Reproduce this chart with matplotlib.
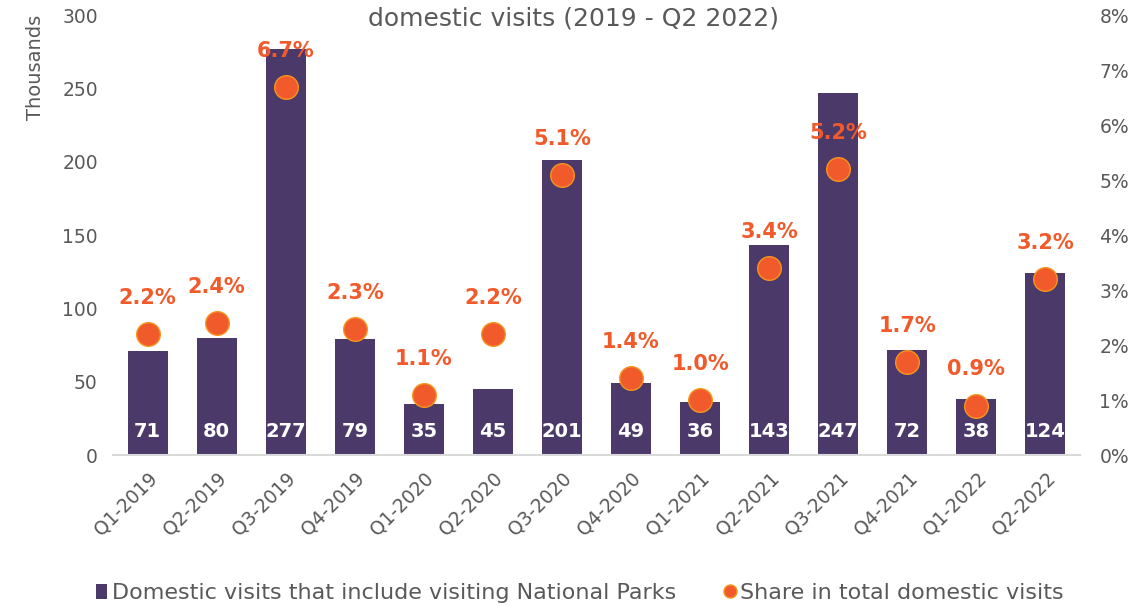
import matplotlib.pyplot as plt
import numpy as np

plt.rcParams['font.family'] = ['DejaVu Sans']

quarters = ['Q1-2019', 'Q2-2019', 'Q3-2019', 'Q4-2019', 'Q1-2020', 'Q2-2020', 'Q3-2020',
            'Q4-2020', 'Q1-2021', 'Q2-2021', 'Q3-2021', 'Q4-2021', 'Q1-2022', 'Q2-2022']
visits = [71, 80, 277, 79, 35, 45, 201, 49, 36, 143, 247, 72, 38, 124]
share = [2.2, 2.4, 6.7, 2.3, 1.1, 2.2, 5.1, 1.4, 1.0, 3.4, 5.2, 1.7, 0.9, 3.2]

purple = '#4B3A69'
orange = '#F15A2B'
grey = '#595959'

fig = plt.figure(figsize=(11.35, 6.06), dpi=100)
ax = fig.add_axes([0.0996, 0.249, 0.8519, 0.726])
ax2 = ax.twinx()

x = np.arange(len(quarters))
ax.bar(x, visits, width=0.58, color=purple, zorder=2,
       label='Domestic visits that include visiting National Parks')
for i, v in enumerate(visits):
    ax.text(i, 16, str(v), ha='center', va='center', color='white',
            fontsize=14, fontweight='bold', zorder=3)

ax.set_xlim(-0.5, len(quarters) - 0.5)
ax.set_ylim(0, 300)
ax.set_yticks(range(0, 301, 50))
ax.set_xticks(x)
ax.set_xticklabels(quarters, rotation=45, ha='right', rotation_mode='anchor')
ax.tick_params(axis='both', length=0, labelsize=13.5, colors=grey, pad=11)
ax.tick_params(axis='x', pad=10)
for s in ['top', 'left', 'right']:
    ax.spines[s].set_visible(False)
ax.spines['bottom'].set_color('#D9D9D9')
ax.spines['bottom'].set_linewidth(1.5)
ax.set_ylabel('Thousands', fontsize=14, color=grey, loc='top', labelpad=12)

ax2.plot(x, share, 'o', markersize=17, color=orange, markeredgecolor='#F7941D',
         markeredgewidth=1, zorder=4, label='Share in total domestic visits')
for i, s in enumerate(share):
    ax2.annotate(f'{s:.1f}%', (i, s), xytext=(0, 26), textcoords='offset points',
                 ha='center', va='center', color=orange, fontsize=15, fontweight='bold')
ax2.set_ylim(0, 8)
ax2.set_yticks(range(0, 9))
ax2.set_yticklabels([f'{t}%' for t in range(0, 9)])
ax2.tick_params(axis='y', length=0, labelsize=13.5, colors=grey, pad=14)
for s in ['top', 'left', 'right', 'bottom']:
    ax2.spines[s].set_visible(False)

fig.text(0.505, 0.97, 'domestic visits (2019 - Q2 2022)', ha='center', va='center',
         fontsize=18, color=grey)

h1, l1 = ax.get_legend_handles_labels()
h2, l2 = ax2.get_legend_handles_labels()
fig.legend(h1 + h2, l1 + l2, loc='center', bbox_to_anchor=(0.511, 0.021), ncol=2,
           frameon=False, fontsize=16, labelcolor=grey, handlelength=0.5,
           handletextpad=0.2, columnspacing=2.2, markerscale=0.55)

fig.savefig('out.png', dpi=100)
